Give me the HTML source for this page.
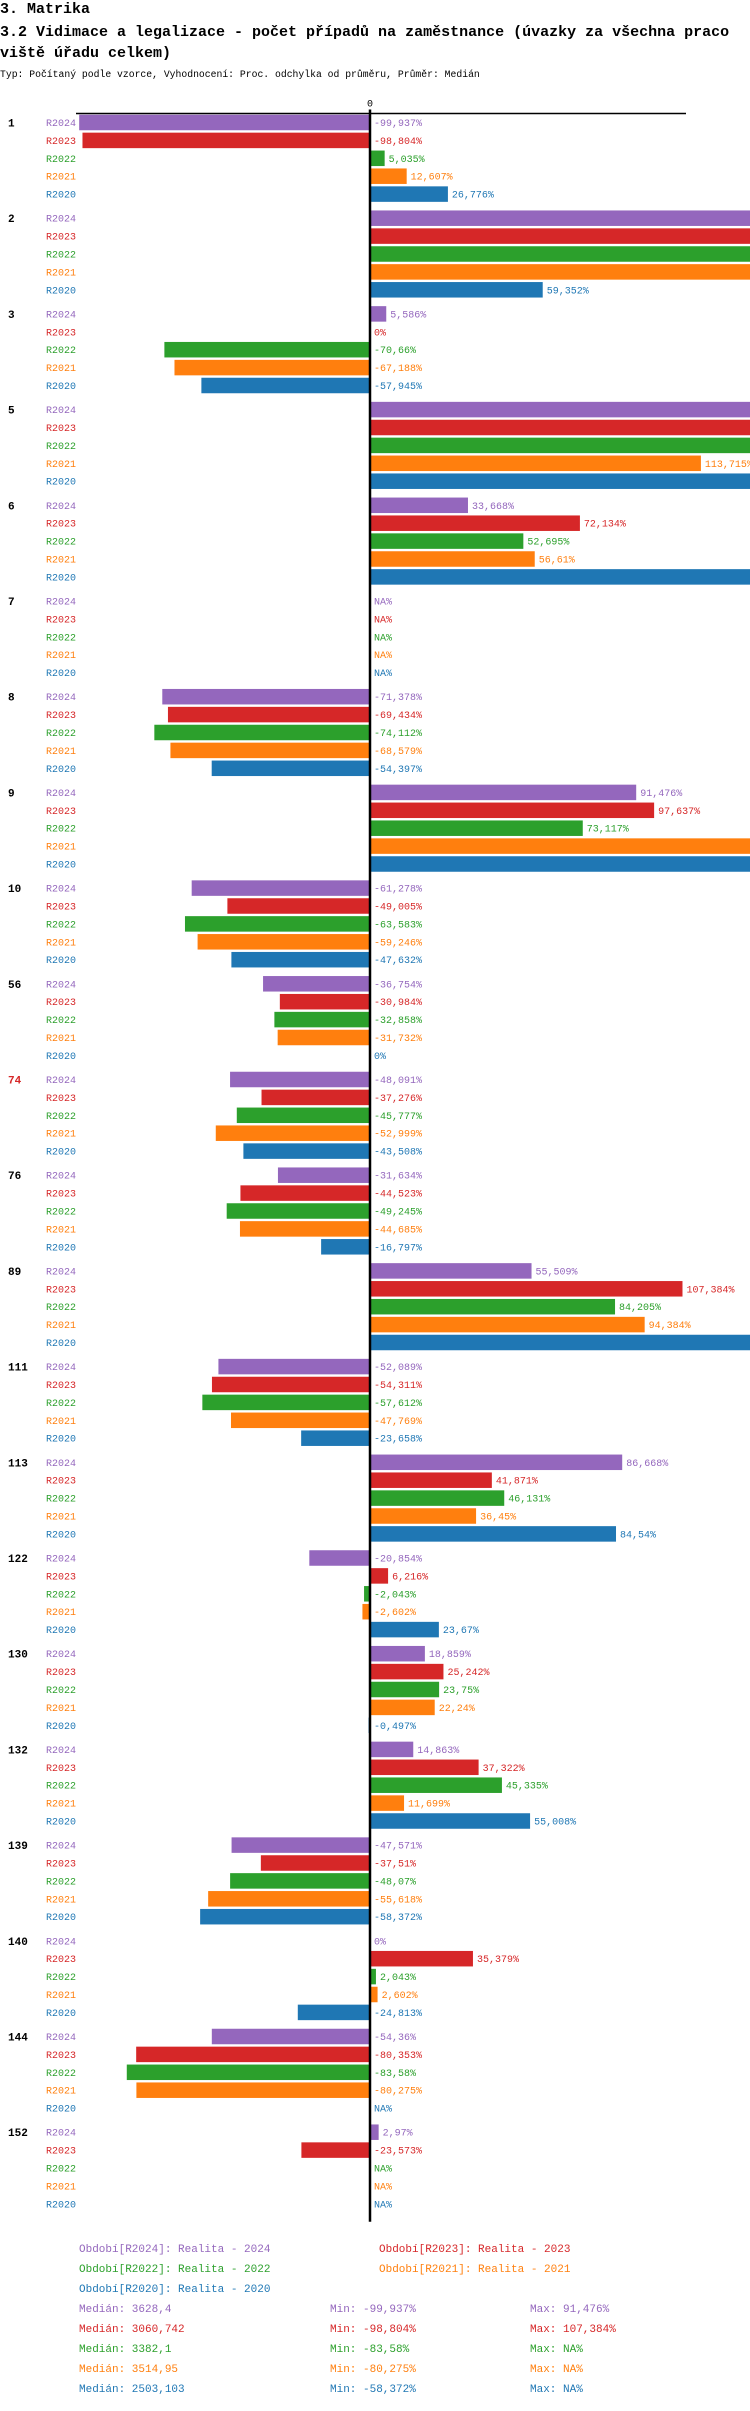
<!DOCTYPE html>
<html><head><meta charset="utf-8"><style>
body{margin:0;background:#fff;width:750px;height:2406px;overflow:hidden}
svg text{font-family:"Liberation Mono","DejaVu Sans Mono",monospace}
</style></head><body>
<svg id="chart" width="750" height="2406" xmlns="http://www.w3.org/2000/svg">
<text x="0" y="13" font-size="15" font-weight="bold">3. Matrika</text>
<text x="0" y="36" font-size="15" font-weight="bold">3.2 Vidimace a legalizace - počet případů na zaměstnance (úvazky za všechna praco</text>
<text x="0" y="57" font-size="15" font-weight="bold">viště úřadu celkem)</text>
<text x="0" y="77" font-size="9.75">Typ: Počítaný podle vzorce, Vyhodnocení: Proc. odchylka od průměru, Průměr: Medián</text>
<g id="bars"></g>
<g id="legend"></g>
</svg>
<script>
const categories=["1","2","3","5","6","7","8","9","10","56","74","76","89","111","113","122","130","132","139","140","144","152"];
const periods=["R2024","R2023","R2022","R2021","R2020"];
const r2024=[-99.937,140,5.586,140,33.668,null,-71.378,91.476,-61.278,-36.754,-48.091,-31.634,55.509,-52.089,86.668,-20.854,18.859,14.863,-47.571,0,-54.36,2.97];
const r2023=[-98.804,140,0,140,72.134,null,-69.434,97.637,-49.005,-30.984,-37.276,-44.523,107.384,-54.311,41.871,6.216,25.242,37.322,-37.51,35.379,-80.353,-23.573];
const r2022=[5.035,140,-70.66,140,52.695,null,-74.112,73.117,-63.583,-32.858,-45.777,-49.245,84.205,-57.612,46.131,-2.043,23.75,45.335,-48.07,2.043,-83.58,null];
const r2021=[12.607,140,-67.188,113.715,56.61,null,-68.579,140,-59.246,-31.732,-52.999,-44.685,94.384,-47.769,36.45,-2.602,22.24,11.699,-55.618,2.602,-80.275,null];
const r2020=[26.776,59.352,-57.945,140,140,null,-54.397,140,-47.632,0,-43.508,-16.797,140,-23.658,84.54,23.67,-0.497,55.008,-58.372,-24.813,null,null];
const series=[r2024,r2023,r2022,r2021,r2020];
const colors=["#9467bd","#d62728","#2ca02c","#ff7f0e","#1f77b4"];
const NS="http://www.w3.org/2000/svg";
const X0=370,PX=2.91;
function xScale(v){return X0+v*PX;}
function yScale(g,r){return 122.5+g*95.7+r*17.9;}
function mk(tag,attrs,parent){const e=document.createElementNS(NS,tag);for(const k in attrs)e.setAttribute(k,attrs[k]);parent.appendChild(e);return e;}
const bars=document.getElementById('bars');
const axisTop=yScale(0,0)-9;
const axisBottom=yScale(categories.length-1,4)+18;
const zl=mk('text',{x:X0,y:axisTop-7,'font-size':10,'text-anchor':'middle'},bars);zl.textContent='0';


const hl=mk('line',{x1:76,x2:686,y1:axisTop,y2:axisTop,stroke:'#000','stroke-width':1.5},bars);


function fmt(v){return String(v).replace('.',',')+'%';}
categories.forEach((c,g)=>{
  const gl=mk('text',{x:8,y:yScale(g,0)+4,'font-size':11,'font-weight':'bold',fill:c==='74'?'#d62728':'#000'},bars);
  gl.textContent=c;
  
  
  periods.forEach((p,r)=>{
    const y=yScale(g,r);const v=series[r][g];
    const pl=mk('text',{x:46,y:y+3.5,'font-size':10,fill:colors[r]},bars);
    pl.textContent=p;
    
    
    let lx=X0+4;
    if(v!==null&&v!==0){
      const x1=Math.min(xScale(v),X0),x2=Math.max(xScale(v),X0);
      const b=mk('rect',{x:x1,y:y-7.75,width:x2-x1,height:15.5,fill:colors[r]},bars);
      
      
      if(v>0)lx=x2+4;
    }
    const vl=mk('text',{x:lx,y:y+3.5,'font-size':10,fill:colors[r]},bars);
    vl.textContent=v===null?'NA%':fmt(v);
    
    
  });
});
const al=mk('line',{x1:X0,x2:X0,y1:axisTop-4,y2:axisBottom,stroke:'#000','stroke-width':2.5},bars);


const leg=document.getElementById('legend');
const legendItems=[["Období[R2024]: Realita - 2024",79,2252,0],["Období[R2023]: Realita - 2023",379,2252,1],["Období[R2022]: Realita - 2022",79,2272,2],["Období[R2021]: Realita - 2021",379,2272,3],["Období[R2020]: Realita - 2020",79,2292,4]];
legendItems.forEach(it=>{
  const t=mk('text',{x:it[1],y:it[2],'font-size':11,fill:colors[it[3]]},leg);t.textContent=it[0];
  
  
});
const medians=["3628,4","3060,742","3382,1","3514,95","2503,103"];
const mins=["-99,937%","-98,804%","-83,58%","-80,275%","-58,372%"];
const maxs=["91,476%","107,384%","NA%","NA%","NA%"];
for(let i=0;i<5;i++){
  const y=2312+i*20;
  const a=mk('text',{x:79,y:y,'font-size':11,fill:colors[i]},leg);a.textContent='Medián: '+medians[i];
  
  
  const b=mk('text',{x:330,y:y,'font-size':11,fill:colors[i]},leg);b.textContent='Min: '+mins[i];
  
  
  const d=mk('text',{x:530,y:y,'font-size':11,fill:colors[i]},leg);d.textContent='Max: '+maxs[i];
  
  
}
</script>
</body></html>
